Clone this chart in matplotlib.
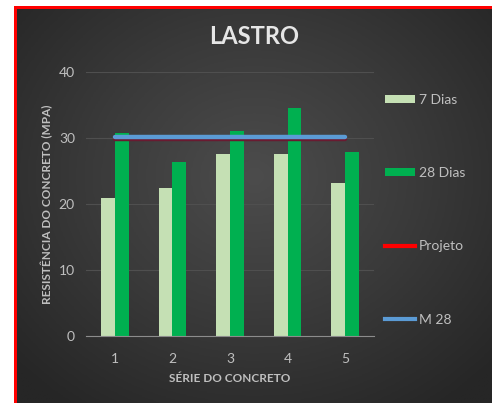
import numpy as np
import matplotlib
matplotlib.use("Agg")
import matplotlib.pyplot as plt
from matplotlib.patches import Patch
from matplotlib.lines import Line2D

# dados do gráfico
series = [1, 2, 3, 4, 5]
dias7 = [20.9, 22.5, 27.6, 27.6, 23.2]
dias28 = [30.8, 26.3, 31.1, 34.6, 27.9]
projeto = [29.9, 29.9, 29.9, 29.9, 29.9]
m28 = [30.1, 30.1, 30.1, 30.1, 30.1]
yticks = [0, 10, 20, 30, 40]

plt.rcParams['font.family'] = ['Lato', 'DejaVu Sans']
TXT = "#bfbfbf"

W, H = 492, 403
fig = plt.figure(figsize=(W / 100, H / 100), dpi=100, facecolor="white")

# moldura vermelha + fundo escuro com gradiente radial
frame = fig.add_axes([14 / W, 0, 1 - 14 / W, 1 - 6 / H], zorder=-2)
frame.set_facecolor("#ff0000")
frame.set_xticks([]); frame.set_yticks([])
for s in frame.spines.values():
    s.set_visible(False)
bg = fig.add_axes([17 / W, 0, 1 - 17 / W, 1 - 9 / H], zorder=-1)
yy, xx = np.mgrid[-1:1:300j, -1:1:300j]
r = np.sqrt((xx * 0.95) ** 2 + ((yy + 0.15) * 0.9) ** 2)
bg.imshow(r, cmap=matplotlib.colors.LinearSegmentedColormap.from_list(
    "g", ["#4c4c4c", "#3a3a3a", "#262626"]), aspect="auto", vmin=0, vmax=1.3)
bg.axis("off")

ax = fig.add_axes([86 / W, 1 - 336 / H, 288 / W, 264 / H], zorder=1)
ax.patch.set_alpha(0)
x = np.array(series)
w = 0.24
ax.bar(x - w / 2, dias7, w, color="#c5e0b4", label="7 Dias", zorder=2)
ax.bar(x + w / 2, dias28, w, color="#00b050", label="28 Dias", zorder=2)
ax.plot(x, projeto, color="#6a1a30", lw=3.2, solid_capstyle="round", zorder=3)
ax.plot(x, m28, color="#5b9bd5", lw=3.2, solid_capstyle="round", zorder=4)

ax.set_xlim(0.5, 5.5)
ax.set_ylim(0, 40)
ax.set_yticks(yticks)
ax.set_xticks(series)
ax.grid(axis="y", color="#4f4f4f", lw=0.8, zorder=0)
for s in ["top", "right", "left"]:
    ax.spines[s].set_visible(False)
ax.spines["bottom"].set_color("#8c8c8c")
ax.spines["bottom"].set_zorder(5)
ax.tick_params(length=0, colors=TXT, labelsize=10, pad=12)
ax.tick_params(axis="y", pad=8)
ax.set_xlabel("SÉRIE DO CONCRETO", color=TXT, fontsize=8.5, fontweight="bold", labelpad=6)
ax.set_ylabel("RESISTÊNCIA DO CONCRETO (MPA)", color=TXT, fontsize=8.5,
              fontweight="bold", va="center")
ax.yaxis.set_label_coords(-0.135, 0.5)

fig.text(254 / W, 1 - 37 / H, "LASTRO", color="#e6e6e6", fontsize=17,
         fontweight="bold", ha="center", va="center")

handles = [Patch(fc="#c5e0b4"), Patch(fc="#00b050"),
           Line2D([], [], color="#ff0000", lw=3), Line2D([], [], color="#5b9bd5", lw=3)]
fig.legend(handles, ["7 Dias", "28 Dias", "Projeto", "M 28"],
           loc="upper left", bbox_to_anchor=(372 / W, 1 - 81 / H),
           frameon=False, fontsize=10, labelcolor=TXT,
           handlelength=2.2, handleheight=0.5, handletextpad=0.3,
           labelspacing=4.42)

fig.savefig("out.png", dpi=100, facecolor=fig.get_facecolor())
